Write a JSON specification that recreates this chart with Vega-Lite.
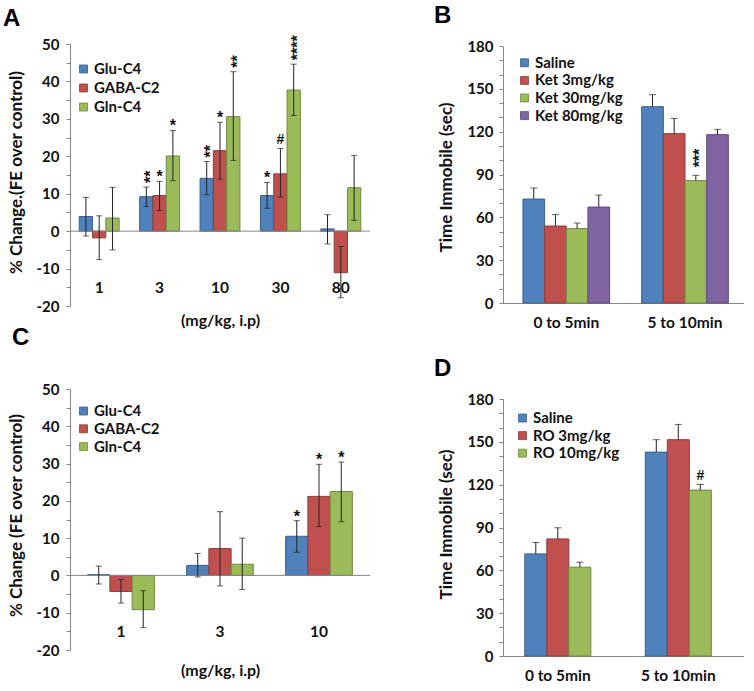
{
"$schema":"https://vega.github.io/schema/vega-lite/v6.json",
"background":"white",
"padding":{"left":3,"top":4,"right":0,"bottom":0},
"config":{
 "view":{"stroke":null},
 "axis":{"labelFont":"Lato","labelFontWeight":"bold","labelFontSize":15,"labelColor":"#111","titleFont":"Lato","titleFontWeight":"bold","titleFontSize":17,"titleColor":"#111","domainColor":"#868686","tickColor":"#868686","grid":false},
 "axisX":{"labelFontSize":15.5,"titleFontSize":16},
 "legend":{"labelFont":"Lato","labelFontWeight":"bold","labelFontSize":15,"labelColor":"#111","symbolType":"square","symbolSize":64,"padding":0,"offset":0,"labelOffset":3,"orient":"none","title":null,"symbolStrokeWidth":0.8},
 "title":{"font":"Liberation Sans","fontSize":24,"fontWeight":"bold","color":"#000","anchor":"start","frame":"group","baseline":"alphabetic"}
},
"datasets":{
 "A":[
  {"dose":"1","s":"Glu-C4","v":3.9,"lo":-1.3,"hi":9.0,"sig":""},
  {"dose":"1","s":"GABA-C2","v":-1.8,"lo":-7.6,"hi":4.1,"sig":""},
  {"dose":"1","s":"Gln-C4","v":3.5,"lo":-5.0,"hi":11.7,"sig":""},
  {"dose":"3","s":"Glu-C4","v":9.2,"lo":6.6,"hi":11.8,"sig":"**"},
  {"dose":"3","s":"GABA-C2","v":9.5,"lo":5.5,"hi":13.3,"sig":"*"},
  {"dose":"3","s":"Gln-C4","v":20.1,"lo":13.5,"hi":26.9,"sig":"*"},
  {"dose":"10","s":"Glu-C4","v":14.1,"lo":9.7,"hi":18.6,"sig":"**"},
  {"dose":"10","s":"GABA-C2","v":21.5,"lo":13.9,"hi":29.1,"sig":"*"},
  {"dose":"10","s":"Gln-C4","v":30.6,"lo":18.9,"hi":42.6,"sig":"**"},
  {"dose":"30","s":"Glu-C4","v":9.5,"lo":6.1,"hi":13.0,"sig":"*"},
  {"dose":"30","s":"GABA-C2","v":15.3,"lo":9.1,"hi":22.1,"sig":"#"},
  {"dose":"30","s":"Gln-C4","v":37.7,"lo":30.9,"hi":44.6,"sig":"****"},
  {"dose":"80","s":"Glu-C4","v":0.6,"lo":-3.4,"hi":4.4,"sig":""},
  {"dose":"80","s":"GABA-C2","v":-11.1,"lo":-17.8,"hi":-4.1,"sig":""},
  {"dose":"80","s":"Gln-C4","v":11.6,"lo":2.9,"hi":20.2,"sig":""}
 ],
 "C":[
  {"dose":"1","s":"Glu-C4","v":0.2,"lo":-2.3,"hi":2.5,"sig":""},
  {"dose":"1","s":"GABA-C2","v":-4.3,"lo":-7.4,"hi":-1.1,"sig":""},
  {"dose":"1","s":"Gln-C4","v":-9.2,"lo":-14.0,"hi":-4.1,"sig":""},
  {"dose":"3","s":"Glu-C4","v":2.7,"lo":-0.4,"hi":5.9,"sig":""},
  {"dose":"3","s":"GABA-C2","v":7.2,"lo":-2.8,"hi":17.1,"sig":""},
  {"dose":"3","s":"Gln-C4","v":3.0,"lo":-3.8,"hi":10.0,"sig":""},
  {"dose":"10","s":"Glu-C4","v":10.5,"lo":6.2,"hi":14.7,"sig":"*"},
  {"dose":"10","s":"GABA-C2","v":21.2,"lo":13.1,"hi":29.8,"sig":"*"},
  {"dose":"10","s":"Gln-C4","v":22.5,"lo":14.4,"hi":30.4,"sig":"*"}
 ],
 "B":[
  {"t":"0 to 5min","s":"Saline","v":72.8,"hi":80.5,"sig":""},
  {"t":"0 to 5min","s":"Ket 3mg/kg","v":53.9,"hi":61.9,"sig":""},
  {"t":"0 to 5min","s":"Ket 30mg/kg","v":52.1,"hi":56.0,"sig":""},
  {"t":"0 to 5min","s":"Ket 80mg/kg","v":67.2,"hi":75.6,"sig":""},
  {"t":"5 to 10min","s":"Saline","v":137.5,"hi":145.9,"sig":""},
  {"t":"5 to 10min","s":"Ket 3mg/kg","v":118.6,"hi":129.3,"sig":""},
  {"t":"5 to 10min","s":"Ket 30mg/kg","v":85.7,"hi":89.4,"sig":"***"},
  {"t":"5 to 10min","s":"Ket 80mg/kg","v":117.9,"hi":121.6,"sig":""}
 ],
 "D":[
  {"t":"0 to 5min","s":"Saline","v":71.5,"hi":79.5,"sig":""},
  {"t":"0 to 5min","s":"RO 3mg/kg","v":82.0,"hi":89.8,"sig":""},
  {"t":"0 to 5min","s":"RO 10mg/kg","v":62.2,"hi":65.7,"sig":""},
  {"t":"5 to 10min","s":"Saline","v":142.8,"hi":151.5,"sig":""},
  {"t":"5 to 10min","s":"RO 3mg/kg","v":151.5,"hi":162.2,"sig":""},
  {"t":"5 to 10min","s":"RO 10mg/kg","v":116.2,"hi":120.1,"sig":"#"}
 ]
},
"columns":2,
"spacing":{"row":83,"column":133},
"bounds":"flush",
"resolve":{"scale":{"color":"independent","stroke":"independent","x":"independent","y":"independent","xOffset":"independent"},"legend":{"color":"independent","stroke":"independent"}},
"concat":[
  {"width":300,"height":262,
   "title":{"text":"A","dx":-67,"offset":4},
   "data":{"name":"A"},
   "layer":[
    {"mark":{"type":"bar","strokeWidth":1},
     "encoding":{
      "x":{"field":"dose","type":"nominal","sort":["1","3","10","30","80"],"scale":{"paddingInner":0.34,"paddingOuter":0.153},"axis":{"title":"(mg/kg, i.p)","labelAngle":0,"domain":false,"ticks":false,"labelPadding":-26,"titleY":14,"titleBaseline":"middle"}},
      "xOffset":{"field":"s","type":"nominal","sort":["Glu-C4","GABA-C2","Gln-C4"]},
      "y":{"field":"v","type":"quantitative","scale":{"domain":[-20,50],"nice":false},"axis":{"title":"% Change.(FE over control)","values":[-20,-15,-10,-5,0,5,10,15,20,25,30,35,40,45,50],"labelExpr":"datum.value % 10 === 0 ? '' + datum.value : ''","tickSize":4,"labelPadding":7,"titleAngle":270,"titleX":-54,"titleY":128,"titleBaseline":"middle","titleAlign":"center"}},
      "color":{"field":"s","type":"nominal","scale":{"domain":["Glu-C4","GABA-C2","Gln-C4"],"range":["#4F81BD","#C0504D","#9BBB59"]},"legend":{"legendX":6,"legendY":17.5,"rowPadding":3}},
      "stroke":{"field":"s","type":"nominal","scale":{"domain":["Glu-C4","GABA-C2","Gln-C4"],"range":["#3A5F8B","#8E3B39","#71893F"]},"legend":null}
     }},
    {"data":{"values":[{}]},"mark":{"type":"rule","color":"#868686","strokeWidth":1},"encoding":{"y":{"datum":0,"type":"quantitative","axis":{"title":"% Change.(FE over control)","values":[-20,-15,-10,-5,0,5,10,15,20,25,30,35,40,45,50],"labelExpr":"datum.value % 10 === 0 ? '' + datum.value : ''","tickSize":4,"labelPadding":7,"titleAngle":270,"titleX":-54,"titleY":128,"titleBaseline":"middle","titleAlign":"center"}}}},
    {"mark":{"type":"rule","color":"#222","strokeWidth":1},
     "encoding":{
      "x":{"field":"dose","type":"nominal","sort":["1","3","10","30","80"],"axis":{"title":"(mg/kg, i.p)","labelAngle":0,"domain":false,"ticks":false,"labelPadding":-26,"titleY":14,"titleBaseline":"middle"}},
      "xOffset":{"field":"s","type":"nominal","sort":["Glu-C4","GABA-C2","Gln-C4"]},
      "y":{"field":"lo","type":"quantitative","axis":{"title":"% Change.(FE over control)","values":[-20,-15,-10,-5,0,5,10,15,20,25,30,35,40,45,50],"labelExpr":"datum.value % 10 === 0 ? '' + datum.value : ''","tickSize":4,"labelPadding":7,"titleAngle":270,"titleX":-54,"titleY":128,"titleBaseline":"middle","titleAlign":"center"}},"y2":{"field":"hi"}}},
    {"mark":{"type":"tick","orient":"horizontal","size":6,"thickness":1,"color":"#222"},
     "encoding":{
      "x":{"field":"dose","type":"nominal","sort":["1","3","10","30","80"],"axis":{"title":"(mg/kg, i.p)","labelAngle":0,"domain":false,"ticks":false,"labelPadding":-26,"titleY":14,"titleBaseline":"middle"}},
      "xOffset":{"field":"s","type":"nominal","sort":["Glu-C4","GABA-C2","Gln-C4"]},
      "y":{"field":"hi","type":"quantitative","axis":{"title":"% Change.(FE over control)","values":[-20,-15,-10,-5,0,5,10,15,20,25,30,35,40,45,50],"labelExpr":"datum.value % 10 === 0 ? '' + datum.value : ''","tickSize":4,"labelPadding":7,"titleAngle":270,"titleX":-54,"titleY":128,"titleBaseline":"middle","titleAlign":"center"}}}},
    {"mark":{"type":"tick","orient":"horizontal","size":6,"thickness":1,"color":"#222"},
     "encoding":{
      "x":{"field":"dose","type":"nominal","sort":["1","3","10","30","80"],"axis":{"title":"(mg/kg, i.p)","labelAngle":0,"domain":false,"ticks":false,"labelPadding":-26,"titleY":14,"titleBaseline":"middle"}},
      "xOffset":{"field":"s","type":"nominal","sort":["Glu-C4","GABA-C2","Gln-C4"]},
      "y":{"field":"lo","type":"quantitative","axis":{"title":"% Change.(FE over control)","values":[-20,-15,-10,-5,0,5,10,15,20,25,30,35,40,45,50],"labelExpr":"datum.value % 10 === 0 ? '' + datum.value : ''","tickSize":4,"labelPadding":7,"titleAngle":270,"titleX":-54,"titleY":128,"titleBaseline":"middle","titleAlign":"center"}}}},
    {"transform":[{"filter":"length(datum.sig) > 1"}],
     "mark":{"type":"text","angle":270,"align":"left","baseline":"middle","dx":4,"dy":4.5,"fontSize":16,"fontWeight":"bold","font":"Liberation Sans","color":"#111"},
     "encoding":{
      "x":{"field":"dose","type":"nominal","sort":["1","3","10","30","80"],"axis":{"title":"(mg/kg, i.p)","labelAngle":0,"domain":false,"ticks":false,"labelPadding":-26,"titleY":14,"titleBaseline":"middle"}},
      "xOffset":{"field":"s","type":"nominal","sort":["Glu-C4","GABA-C2","Gln-C4"]},
      "y":{"field":"hi","type":"quantitative","axis":{"title":"% Change.(FE over control)","values":[-20,-15,-10,-5,0,5,10,15,20,25,30,35,40,45,50],"labelExpr":"datum.value % 10 === 0 ? '' + datum.value : ''","tickSize":4,"labelPadding":7,"titleAngle":270,"titleX":-54,"titleY":128,"titleBaseline":"middle","titleAlign":"center"}},"text":{"field":"sig"}}},
    {"transform":[{"filter":"datum.sig === '*'"}],
     "mark":{"type":"text","align":"center","baseline":"alphabetic","dy":1,"fontSize":16,"fontWeight":"bold","font":"Liberation Sans","color":"#111"},
     "encoding":{
      "x":{"field":"dose","type":"nominal","sort":["1","3","10","30","80"],"axis":{"title":"(mg/kg, i.p)","labelAngle":0,"domain":false,"ticks":false,"labelPadding":-26,"titleY":14,"titleBaseline":"middle"}},
      "xOffset":{"field":"s","type":"nominal","sort":["Glu-C4","GABA-C2","Gln-C4"]},
      "y":{"field":"hi","type":"quantitative","axis":{"title":"% Change.(FE over control)","values":[-20,-15,-10,-5,0,5,10,15,20,25,30,35,40,45,50],"labelExpr":"datum.value % 10 === 0 ? '' + datum.value : ''","tickSize":4,"labelPadding":7,"titleAngle":270,"titleX":-54,"titleY":128,"titleBaseline":"middle","titleAlign":"center"}},"text":{"field":"sig"}}},
    {"transform":[{"filter":"datum.sig === '#'"}],
     "mark":{"type":"text","align":"center","baseline":"alphabetic","dy":-4,"fontSize":14,"fontWeight":"bold","font":"Liberation Sans","color":"#111"},
     "encoding":{
      "x":{"field":"dose","type":"nominal","sort":["1","3","10","30","80"],"axis":{"title":"(mg/kg, i.p)","labelAngle":0,"domain":false,"ticks":false,"labelPadding":-26,"titleY":14,"titleBaseline":"middle"}},
      "xOffset":{"field":"s","type":"nominal","sort":["Glu-C4","GABA-C2","Gln-C4"]},
      "y":{"field":"hi","type":"quantitative","axis":{"title":"% Change.(FE over control)","values":[-20,-15,-10,-5,0,5,10,15,20,25,30,35,40,45,50],"labelExpr":"datum.value % 10 === 0 ? '' + datum.value : ''","tickSize":4,"labelPadding":7,"titleAngle":270,"titleX":-54,"titleY":128,"titleBaseline":"middle","titleAlign":"center"}},"text":{"field":"sig"}}}
   ]},
  {"width":241,"height":259,
   "title":{"text":"B","dx":-69,"offset":11},
   "data":{"name":"B"},
   "layer":[
    {"mark":{"type":"bar","strokeWidth":1},
     "encoding":{
      "x":{"field":"t","type":"nominal","sort":["0 to 5min","5 to 10min"],"scale":{"paddingInner":0.27,"paddingOuter":0.15,"align":0.56},"axis":{"title":null,"labelAngle":0,"ticks":false,"labelPadding":12}},
      "xOffset":{"field":"s","type":"nominal","sort":["Saline","Ket 3mg/kg","Ket 30mg/kg","Ket 80mg/kg"]},
      "y":{"field":"v","type":"quantitative","scale":{"domain":[0,180],"nice":false,"range":[259,2]},"axis":{"title":"Time Immobile (sec)","values":[0,10,20,30,40,50,60,70,80,90,100,110,120,130,140,150,160,170,180],"labelExpr":"datum.value % 30 === 0 ? '' + datum.value : ''","tickSize":4,"labelPadding":6,"titleAngle":270,"titleX":-57,"titleY":133,"titleBaseline":"middle","titleAlign":"center"}},
      "color":{"field":"s","type":"nominal","scale":{"domain":["Saline","Ket 3mg/kg","Ket 30mg/kg","Ket 80mg/kg"],"range":["#4F81BD","#C0504D","#9BBB59","#8064A2"]},"legend":{"legendX":14,"legendY":11.3,"rowPadding":1.6}},
      "stroke":{"field":"s","type":"nominal","scale":{"domain":["Saline","Ket 3mg/kg","Ket 30mg/kg","Ket 80mg/kg"],"range":["#3A5F8B","#8E3B39","#71893F","#5E4A78"]},"legend":null}
     }},
    {"mark":{"type":"rule","color":"#222","strokeWidth":1},
     "encoding":{
      "x":{"field":"t","type":"nominal","sort":["0 to 5min","5 to 10min"],"axis":{"title":null,"labelAngle":0,"ticks":false,"labelPadding":12}},
      "xOffset":{"field":"s","type":"nominal","sort":["Saline","Ket 3mg/kg","Ket 30mg/kg","Ket 80mg/kg"]},
      "y":{"field":"v","type":"quantitative","axis":{"title":"Time Immobile (sec)","values":[0,10,20,30,40,50,60,70,80,90,100,110,120,130,140,150,160,170,180],"labelExpr":"datum.value % 30 === 0 ? '' + datum.value : ''","tickSize":4,"labelPadding":6,"titleAngle":270,"titleX":-57,"titleY":133,"titleBaseline":"middle","titleAlign":"center"}},"y2":{"field":"hi"}}},
    {"mark":{"type":"tick","orient":"horizontal","size":7,"thickness":1,"color":"#222"},
     "encoding":{
      "x":{"field":"t","type":"nominal","sort":["0 to 5min","5 to 10min"],"axis":{"title":null,"labelAngle":0,"ticks":false,"labelPadding":12}},
      "xOffset":{"field":"s","type":"nominal","sort":["Saline","Ket 3mg/kg","Ket 30mg/kg","Ket 80mg/kg"]},
      "y":{"field":"hi","type":"quantitative","axis":{"title":"Time Immobile (sec)","values":[0,10,20,30,40,50,60,70,80,90,100,110,120,130,140,150,160,170,180],"labelExpr":"datum.value % 30 === 0 ? '' + datum.value : ''","tickSize":4,"labelPadding":6,"titleAngle":270,"titleX":-57,"titleY":133,"titleBaseline":"middle","titleAlign":"center"}}}},
    {"transform":[{"filter":"length(datum.sig) > 1"}],
     "mark":{"type":"text","angle":270,"align":"left","baseline":"middle","dx":8,"dy":4.5,"fontSize":16,"fontWeight":"bold","font":"Liberation Sans","color":"#111"},
     "encoding":{
      "x":{"field":"t","type":"nominal","sort":["0 to 5min","5 to 10min"],"axis":{"title":null,"labelAngle":0,"ticks":false,"labelPadding":12}},
      "xOffset":{"field":"s","type":"nominal","sort":["Saline","Ket 3mg/kg","Ket 30mg/kg","Ket 80mg/kg"]},
      "y":{"field":"hi","type":"quantitative","axis":{"title":"Time Immobile (sec)","values":[0,10,20,30,40,50,60,70,80,90,100,110,120,130,140,150,160,170,180],"labelExpr":"datum.value % 30 === 0 ? '' + datum.value : ''","tickSize":4,"labelPadding":6,"titleAngle":270,"titleX":-57,"titleY":133,"titleBaseline":"middle","titleAlign":"center"}},"text":{"field":"sig"}}}
   ]},
  {"width":300,"height":261,
   "title":{"text":"C","dx":-58,"offset":32.5},
   "data":{"name":"C"},
   "layer":[
    {"mark":{"type":"bar","strokeWidth":1},
     "encoding":{
      "x":{"field":"dose","type":"nominal","sort":["1","3","10"],"scale":{"paddingInner":0.326,"paddingOuter":0.178},"axis":{"title":"(mg/kg, i.p)","labelAngle":0,"domain":false,"ticks":false,"labelPadding":-26,"titleY":20,"titleBaseline":"middle"}},
      "xOffset":{"field":"s","type":"nominal","sort":["Glu-C4","GABA-C2","Gln-C4"]},
      "y":{"field":"v","type":"quantitative","scale":{"domain":[-20,50],"nice":false},"axis":{"title":"% Change (FE over control)","values":[-20,-15,-10,-5,0,5,10,15,20,25,30,35,40,45,50],"labelExpr":"datum.value % 10 === 0 ? '' + datum.value : ''","tickSize":4,"labelPadding":7,"titleAngle":270,"titleX":-54,"titleY":126,"titleBaseline":"middle","titleAlign":"center"}},
      "color":{"field":"s","type":"nominal","scale":{"domain":["Glu-C4","GABA-C2","Gln-C4"],"range":["#4F81BD","#C0504D","#9BBB59"]},"legend":{"legendX":6,"legendY":14.5,"rowPadding":1.8}},
      "stroke":{"field":"s","type":"nominal","scale":{"domain":["Glu-C4","GABA-C2","Gln-C4"],"range":["#3A5F8B","#8E3B39","#71893F"]},"legend":null}
     }},
    {"data":{"values":[{}]},"mark":{"type":"rule","color":"#868686","strokeWidth":1},"encoding":{"y":{"datum":0,"type":"quantitative","axis":{"title":"% Change (FE over control)","values":[-20,-15,-10,-5,0,5,10,15,20,25,30,35,40,45,50],"labelExpr":"datum.value % 10 === 0 ? '' + datum.value : ''","tickSize":4,"labelPadding":7,"titleAngle":270,"titleX":-54,"titleY":126,"titleBaseline":"middle","titleAlign":"center"}}}},
    {"mark":{"type":"rule","color":"#222","strokeWidth":1},
     "encoding":{
      "x":{"field":"dose","type":"nominal","sort":["1","3","10"],"axis":{"title":"(mg/kg, i.p)","labelAngle":0,"domain":false,"ticks":false,"labelPadding":-26,"titleY":20,"titleBaseline":"middle"}},
      "xOffset":{"field":"s","type":"nominal","sort":["Glu-C4","GABA-C2","Gln-C4"]},
      "y":{"field":"lo","type":"quantitative","axis":{"title":"% Change (FE over control)","values":[-20,-15,-10,-5,0,5,10,15,20,25,30,35,40,45,50],"labelExpr":"datum.value % 10 === 0 ? '' + datum.value : ''","tickSize":4,"labelPadding":7,"titleAngle":270,"titleX":-54,"titleY":126,"titleBaseline":"middle","titleAlign":"center"}},"y2":{"field":"hi"}}},
    {"mark":{"type":"tick","orient":"horizontal","size":6,"thickness":1,"color":"#222"},
     "encoding":{
      "x":{"field":"dose","type":"nominal","sort":["1","3","10"],"axis":{"title":"(mg/kg, i.p)","labelAngle":0,"domain":false,"ticks":false,"labelPadding":-26,"titleY":20,"titleBaseline":"middle"}},
      "xOffset":{"field":"s","type":"nominal","sort":["Glu-C4","GABA-C2","Gln-C4"]},
      "y":{"field":"hi","type":"quantitative","axis":{"title":"% Change (FE over control)","values":[-20,-15,-10,-5,0,5,10,15,20,25,30,35,40,45,50],"labelExpr":"datum.value % 10 === 0 ? '' + datum.value : ''","tickSize":4,"labelPadding":7,"titleAngle":270,"titleX":-54,"titleY":126,"titleBaseline":"middle","titleAlign":"center"}}}},
    {"mark":{"type":"tick","orient":"horizontal","size":6,"thickness":1,"color":"#222"},
     "encoding":{
      "x":{"field":"dose","type":"nominal","sort":["1","3","10"],"axis":{"title":"(mg/kg, i.p)","labelAngle":0,"domain":false,"ticks":false,"labelPadding":-26,"titleY":20,"titleBaseline":"middle"}},
      "xOffset":{"field":"s","type":"nominal","sort":["Glu-C4","GABA-C2","Gln-C4"]},
      "y":{"field":"lo","type":"quantitative","axis":{"title":"% Change (FE over control)","values":[-20,-15,-10,-5,0,5,10,15,20,25,30,35,40,45,50],"labelExpr":"datum.value % 10 === 0 ? '' + datum.value : ''","tickSize":4,"labelPadding":7,"titleAngle":270,"titleX":-54,"titleY":126,"titleBaseline":"middle","titleAlign":"center"}}}},
    {"transform":[{"filter":"datum.sig === '*'"}],
     "mark":{"type":"text","align":"center","baseline":"alphabetic","dy":1,"fontSize":16,"fontWeight":"bold","font":"Liberation Sans","color":"#111"},
     "encoding":{
      "x":{"field":"dose","type":"nominal","sort":["1","3","10"],"axis":{"title":"(mg/kg, i.p)","labelAngle":0,"domain":false,"ticks":false,"labelPadding":-26,"titleY":20,"titleBaseline":"middle"}},
      "xOffset":{"field":"s","type":"nominal","sort":["Glu-C4","GABA-C2","Gln-C4"]},
      "y":{"field":"hi","type":"quantitative","axis":{"title":"% Change (FE over control)","values":[-20,-15,-10,-5,0,5,10,15,20,25,30,35,40,45,50],"labelExpr":"datum.value % 10 === 0 ? '' + datum.value : ''","tickSize":4,"labelPadding":7,"titleAngle":270,"titleX":-54,"titleY":126,"titleBaseline":"middle","titleAlign":"center"}},"text":{"field":"sig"}}}
   ]},
  {"width":241,"height":267,
   "title":{"text":"D","dx":-69,"offset":8.5},
   "data":{"name":"D"},
   "layer":[
    {"mark":{"type":"bar","strokeWidth":1},
     "encoding":{
      "x":{"field":"t","type":"nominal","sort":["0 to 5min","5 to 10min"],"scale":{"paddingInner":0.452,"paddingOuter":0.226,"align":0.4},"axis":{"title":null,"labelAngle":0,"ticks":false,"labelPadding":12}},
      "xOffset":{"field":"s","type":"nominal","sort":["Saline","RO 3mg/kg","RO 10mg/kg"]},
      "y":{"field":"v","type":"quantitative","scale":{"domain":[0,180],"nice":false,"range":[267,10]},"axis":{"title":"Time Immobile (sec)","values":[0,10,20,30,40,50,60,70,80,90,100,110,120,130,140,150,160,170,180],"labelExpr":"datum.value % 30 === 0 ? '' + datum.value : ''","tickSize":4,"labelPadding":6,"titleAngle":270,"titleX":-57,"titleY":135,"titleBaseline":"middle","titleAlign":"center"}},
      "color":{"field":"s","type":"nominal","scale":{"domain":["Saline","RO 3mg/kg","RO 10mg/kg"],"range":["#4F81BD","#C0504D","#9BBB59"]},"legend":{"legendX":12,"legendY":21.5,"rowPadding":1.6}},
      "stroke":{"field":"s","type":"nominal","scale":{"domain":["Saline","RO 3mg/kg","RO 10mg/kg"],"range":["#3A5F8B","#8E3B39","#71893F"]},"legend":null}
     }},
    {"mark":{"type":"rule","color":"#222","strokeWidth":1},
     "encoding":{
      "x":{"field":"t","type":"nominal","sort":["0 to 5min","5 to 10min"],"axis":{"title":null,"labelAngle":0,"ticks":false,"labelPadding":12}},
      "xOffset":{"field":"s","type":"nominal","sort":["Saline","RO 3mg/kg","RO 10mg/kg"]},
      "y":{"field":"v","type":"quantitative","axis":{"title":"Time Immobile (sec)","values":[0,10,20,30,40,50,60,70,80,90,100,110,120,130,140,150,160,170,180],"labelExpr":"datum.value % 30 === 0 ? '' + datum.value : ''","tickSize":4,"labelPadding":6,"titleAngle":270,"titleX":-57,"titleY":135,"titleBaseline":"middle","titleAlign":"center"}},"y2":{"field":"hi"}}},
    {"mark":{"type":"tick","orient":"horizontal","size":7,"thickness":1,"color":"#222"},
     "encoding":{
      "x":{"field":"t","type":"nominal","sort":["0 to 5min","5 to 10min"],"axis":{"title":null,"labelAngle":0,"ticks":false,"labelPadding":12}},
      "xOffset":{"field":"s","type":"nominal","sort":["Saline","RO 3mg/kg","RO 10mg/kg"]},
      "y":{"field":"hi","type":"quantitative","axis":{"title":"Time Immobile (sec)","values":[0,10,20,30,40,50,60,70,80,90,100,110,120,130,140,150,160,170,180],"labelExpr":"datum.value % 30 === 0 ? '' + datum.value : ''","tickSize":4,"labelPadding":6,"titleAngle":270,"titleX":-57,"titleY":135,"titleBaseline":"middle","titleAlign":"center"}}}},
    {"transform":[{"filter":"datum.sig === '#'"}],
     "mark":{"type":"text","align":"center","baseline":"alphabetic","dy":-5,"fontSize":14,"fontWeight":"bold","font":"Liberation Sans","color":"#111"},
     "encoding":{
      "x":{"field":"t","type":"nominal","sort":["0 to 5min","5 to 10min"],"axis":{"title":null,"labelAngle":0,"ticks":false,"labelPadding":12}},
      "xOffset":{"field":"s","type":"nominal","sort":["Saline","RO 3mg/kg","RO 10mg/kg"]},
      "y":{"field":"hi","type":"quantitative","axis":{"title":"Time Immobile (sec)","values":[0,10,20,30,40,50,60,70,80,90,100,110,120,130,140,150,160,170,180],"labelExpr":"datum.value % 30 === 0 ? '' + datum.value : ''","tickSize":4,"labelPadding":6,"titleAngle":270,"titleX":-57,"titleY":135,"titleBaseline":"middle","titleAlign":"center"}},"text":{"field":"sig"}}}
   ]}
]
}
